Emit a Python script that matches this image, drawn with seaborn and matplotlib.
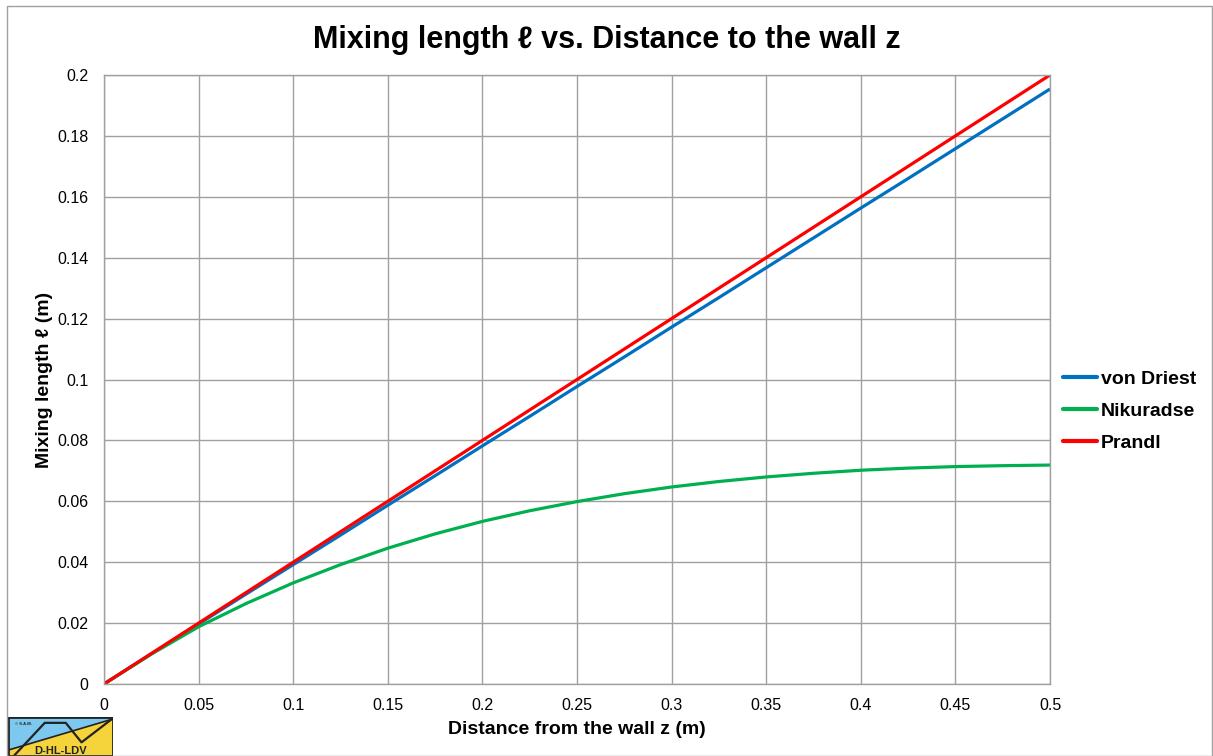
import numpy as np
import pandas as pd
import matplotlib
matplotlib.use("Agg")
import matplotlib.pyplot as plt
import seaborn as sns
from matplotlib.patches import Rectangle, Polygon

# ---------------------------------------------------------------------------
# Data (z in m, mixing length in m)
# ---------------------------------------------------------------------------
Z = [0.0, 0.025, 0.05, 0.075, 0.1, 0.125, 0.15, 0.175, 0.2, 0.225, 0.25,
     0.275, 0.3, 0.325, 0.35, 0.375, 0.4, 0.425, 0.45, 0.475, 0.5]
VON_DRIEST = [0.0, 0.0099, 0.0197, 0.0295, 0.0392, 0.0489, 0.0587, 0.0684,
              0.0782, 0.0879, 0.0977, 0.1074, 0.1172, 0.1269, 0.1367, 0.1465,
              0.1563, 0.1660, 0.1758, 0.1856, 0.1954]
NIKURADSE = [0.0, 0.0098, 0.0188, 0.0264, 0.0332, 0.0392, 0.0446, 0.0493,
             0.0534, 0.0569, 0.0599, 0.0625, 0.0647, 0.0665, 0.0680, 0.0692,
             0.0702, 0.0709, 0.0714, 0.0717, 0.0719]
PRANDL = [0.0, 0.01, 0.02, 0.03, 0.04, 0.05, 0.06, 0.07, 0.08, 0.09, 0.10,
          0.11, 0.12, 0.13, 0.14, 0.15, 0.16, 0.17, 0.18, 0.19, 0.20]

SERIES = ["von Driest", "Nikuradse", "Prandl"]
COLOURS = {"von Driest": "#0070C0", "Nikuradse": "#00B050", "Prandl": "#FF0000"}

X_TICKS = [0, 0.05, 0.1, 0.15, 0.2, 0.25, 0.3, 0.35, 0.4, 0.45, 0.5]
Y_TICKS = [0, 0.02, 0.04, 0.06, 0.08, 0.1, 0.12, 0.14, 0.16, 0.18, 0.2]

GRID = "#A0A0A0"

sns.set_theme(style="white")
plt.rcParams["font.family"] = ["Liberation Sans", "DejaVu Sans"]
plt.rcParams.update({"text.color": "black", "axes.labelcolor": "black",
                     "xtick.color": "black", "ytick.color": "black"})

df = pd.DataFrame({
    "z": Z * 3,
    "l": VON_DRIEST + NIKURADSE + PRANDL,
    "model": [s for s in SERIES for _ in Z],
})

fig = plt.figure(figsize=(12.13, 7.56), dpi=100)
ax = fig.add_axes([104 / 1213, 1 - 684 / 756, (1050 - 104) / 1213, (684 - 75) / 756])

sns.lineplot(data=df, x="z", y="l", hue="model", hue_order=SERIES,
             palette=COLOURS, linewidth=2.3, ax=ax, legend=False,
             solid_capstyle="butt")

ax.set_xlim(0, 0.5)
ax.set_ylim(0, 0.2)
ax.set_xticks(X_TICKS)
ax.set_yticks(Y_TICKS)
ax.set_xticklabels([f"{v:g}" for v in X_TICKS])
ax.set_yticklabels([f"{v:g}" for v in Y_TICKS])
ax.tick_params(axis="both", length=0, labelsize=11.5)
ax.tick_params(axis="x", pad=10)
ax.tick_params(axis="y", pad=11)
ax.grid(True, color=GRID, linewidth=1.0)
ax.set_axisbelow(True)
for sp in ax.spines.values():
    sp.set_color(GRID)
    sp.set_linewidth(1.0)

ax.set_xlabel("Distance from the wall z (m)", fontsize=14, fontweight="bold",
              labelpad=6)
ax.set_ylabel("Mixing length \u2113 (m)", fontsize=14, fontweight="bold",
              labelpad=3)

fig.text(0.5, 1 - 40 / 756, "Mixing length \u2113 vs. Distance to the wall z",
         ha="center", va="center", fontsize=22, fontweight="bold")

# legend (manual handles in series order)
handles = [plt.Line2D([], [], color=COLOURS[s], linewidth=3) for s in SERIES]
leg = fig.legend(handles, SERIES, loc="center left",
                 bbox_to_anchor=(1055 / 1213, 1 - 411 / 756), frameon=False,
                 prop={"weight": "bold", "size": 14}, handlelength=1.75,
                 handletextpad=0.2, labelspacing=0.75, borderaxespad=0)

# outer chart border
fig.patches.append(Rectangle((7 / 1213, 0), 1 - 8 / 1213, 1 - 6 / 756,
                             transform=fig.transFigure, fill=False,
                             edgecolor=GRID, linewidth=1.0))

# logo in the lower-left corner
lg = fig.add_axes([8 / 1213, 0, (113 - 8) / 1213, (756 - 717) / 756])
lg.set_xlim(0, 1)
lg.set_ylim(0, 1)
lg.axis("off")
lg.add_patch(Rectangle((0, 0), 1, 1, facecolor="#F5D33A", edgecolor="none"))
lg.add_patch(Polygon([(0, 0), (0, 1), (1, 1), (1, 0.95), (0, 0.15)],
                     facecolor="#7CC8EE", edgecolor="none"))
lg.plot([0, 1], [0.15, 0.95], color="#222222", linewidth=1.2)
lg.plot([0.02, 0.35, 0.55, 0.7, 1.0], [-0.1, 0.85, 0.85, 0.35, 0.97],
        color="#222222", linewidth=1.6)
lg.add_patch(Rectangle((0, 0), 1, 1, fill=False, edgecolor="#222222",
                       linewidth=2.0))
lg.text(0.07, 0.82, "\u00a9 S.A.M.", fontsize=3, fontweight="bold",
        ha="left", va="center", color="#222222")
lg.text(0.5, 0.12, "D-HL-LDV", fontsize=8, fontweight="bold",
        ha="center", va="center", color="#222222")

fig.savefig("out.png", dpi=100)
